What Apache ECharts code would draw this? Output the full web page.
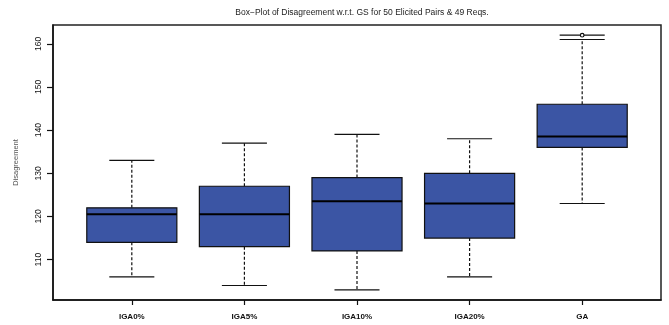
<!DOCTYPE html>
<html>
<head>
<meta charset="utf-8">
<script src="https://cdn.jsdelivr.net/npm/echarts@6/dist/echarts.min.js"></script>
<style>
  html, body { margin: 0; padding: 0; background: #fff; }
  #chart { width: 669px; height: 325px; }
</style>
</head>
<body>
<div id="chart"></div>
<script>
// Five-number summaries per method
const categories   = ['IGA0%', 'IGA5%', 'IGA10%', 'IGA20%', 'GA'];
const lowerWhisker = [106, 104, 103, 106, 123];
const q1           = [114, 113, 112, 115, 136];
const median       = [120.5, 120.5, 123.5, 123, 138.5];
const q3           = [122, 127, 129, 130, 146];
const upperWhisker = [133, 137, 139, 138, 161];
// Outliers as [category index, value]
const outliers     = [[4, 162]];
const yTicks       = [110, 120, 130, 140, 150, 160];

// Y range: data extent padded by 4% on each side
const allVals = lowerWhisker.concat(upperWhisker, outliers.map(o => o[1]));
const lo = Math.min(...allVals), hi = Math.max(...allVals);
const pad = (hi - lo) * 0.04;
const yMin = lo - pad, yMax = hi + pad;

const boxData = categories.map((c, i) => [i + 1, lowerWhisker[i], q1[i], median[i], q3[i], upperWhisker[i]]);
const BOX_W = 0.8;   // box width in x-units
const CAP_W = 0.4;   // whisker cap width in x-units
const FILL = '#3b55a4';

function renderBox(params, api) {
  const x = api.value(0);
  const vals = [1, 2, 3, 4, 5].map(k => api.value(k));
  const pt = v => api.coord([x, v]);
  const left = api.coord([x - BOX_W / 2, vals[2]])[0];
  const right = api.coord([x + BOX_W / 2, vals[2]])[0];
  const capL = api.coord([x - CAP_W / 2, vals[0]])[0];
  const capR = api.coord([x + CAP_W / 2, vals[0]])[0];
  const cx = pt(vals[0])[0];
  const yLow = pt(vals[0])[1], yQ1 = pt(vals[1])[1], yMed = pt(vals[2])[1], yQ3 = pt(vals[3])[1], yHigh = pt(vals[4])[1];
  const dash = { stroke: '#111', lineWidth: 1.2, lineDash: [3, 2] };
  const solid = { stroke: '#111', lineWidth: 1.2 };
  return {
    type: 'group',
    children: [
      { type: 'line', shape: { x1: cx, y1: yQ1, x2: cx, y2: yLow }, style: dash },
      { type: 'line', shape: { x1: cx, y1: yQ3, x2: cx, y2: yHigh }, style: dash },
      { type: 'line', shape: { x1: capL, y1: yLow, x2: capR, y2: yLow }, style: solid },
      { type: 'line', shape: { x1: capL, y1: yHigh, x2: capR, y2: yHigh }, style: solid },
      { type: 'rect', shape: { x: left, y: yQ3, width: right - left, height: yQ1 - yQ3 },
        style: { fill: FILL, stroke: '#111', lineWidth: 1.2 } },
      { type: 'line', shape: { x1: left, y1: yMed, x2: right, y2: yMed }, style: { stroke: '#000', lineWidth: 2 } }
    ]
  };
}

function renderOutlier(params, api) {
  const x = api.value(0), v = api.value(1);
  const p = api.coord([x, v]);
  const capL = api.coord([x - CAP_W / 2, v])[0];
  const capR = api.coord([x + CAP_W / 2, v])[0];
  return {
    type: 'group',
    children: [
      { type: 'line', shape: { x1: capL, y1: p[1], x2: capR, y2: p[1] }, style: { stroke: '#111', lineWidth: 1.2 } },
      { type: 'circle', shape: { cx: p[0], cy: p[1], r: 1.8 }, style: { fill: '#fff', stroke: '#111', lineWidth: 1.2 } }
    ]
  };
}

const chart = echarts.init(document.getElementById('chart'), null, { renderer: 'canvas' });
chart.setOption({
  animation: false,
  title: {
    text: 'Box\u2212Plot of Disagreement w.r.t. GS for 50 Elicited Pairs & 49 Reqs.',
    left: 357, top: 3, textAlign: 'center',
    textStyle: { fontFamily: 'Liberation Sans', fontSize: 8.5, fontWeight: 'normal', color: '#222' }
  },
  grid: { left: 53, right: 8, top: 25, bottom: 25, show: true, borderColor: '#222', borderWidth: 1.5, backgroundColor: 'transparent' },
  xAxis: {
    type: 'value', min: 0.3, max: 5.7,
    splitLine: { show: false },
    axisLine: { show: true, lineStyle: { color: '#111', width: 1.5 } },
    axisTick: { show: true, customValues: [1, 2, 3, 4, 5], length: 5, lineStyle: { color: '#111', width: 1.2 } },
    axisLabel: {
      customValues: [1, 2, 3, 4, 5],
      formatter: v => categories[Math.round(v) - 1] || '',
      margin: 13,
      fontFamily: 'Liberation Sans', fontSize: 8, fontWeight: 'bold', color: '#111'
    }
  },
  yAxis: {
    type: 'value', min: yMin, max: yMax,
    name: 'Disagreement', nameLocation: 'middle', nameGap: 33, nameRotate: 90,
    nameTextStyle: { fontFamily: 'Liberation Sans', fontSize: 7.5, color: '#555' },
    splitLine: { show: false },
    axisLine: { show: true, lineStyle: { color: '#111', width: 1.5 } },
    axisTick: { show: true, customValues: yTicks, length: 6, lineStyle: { color: '#111', width: 1.2 } },
    axisLabel: {
      customValues: yTicks, rotate: 90, margin: 10,
      fontFamily: 'Liberation Sans', fontSize: 8.5, color: '#111'
    }
  },
  series: [
    { type: 'custom', renderItem: renderBox, data: boxData, encode: { x: 0, y: [1, 2, 3, 4, 5] }, clip: false },
    { type: 'custom', renderItem: renderOutlier, data: outliers.map(o => [o[0] + 1, o[1]]), encode: { x: 0, y: 1 }, clip: false }
  ]
});
</script>
</body>
</html>
